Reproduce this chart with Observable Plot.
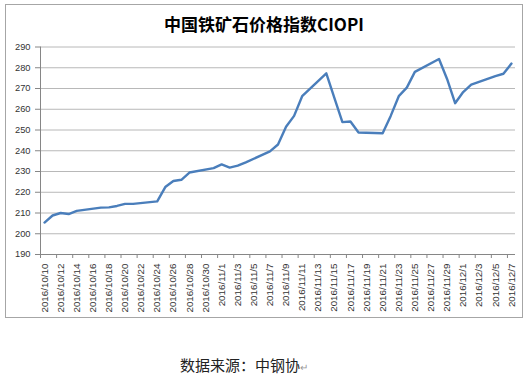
<!DOCTYPE html>
<html>
<head>
<meta charset="utf-8">
<script src="https://cdn.jsdelivr.net/npm/d3@7"></script>
<script src="https://cdn.jsdelivr.net/npm/@observablehq/plot@0.6"></script>
<style>
  html, body { margin: 0; padding: 0; background: #fff; }
  #wrap { position: relative; width: 528px; height: 377px; overflow: hidden; }
  #box { position: absolute; left: 5px; top: 4px; width: 518px; height: 314px; border: 1px solid #a6a6a6; box-sizing: border-box; }
  #title { position: absolute; left: 0; top: 13px; width: 528px; text-align: center;
           font-family: "Noto Sans CJK SC", sans-serif; font-weight: bold; font-size: 17px; color: #000; line-height: 22px; }
  #chart { position: absolute; left: 0; top: 0; }
  #caption { position: absolute; left: 180px; top: 355px; font-family: "Noto Sans CJK SC", sans-serif;
             font-size: 15px; color: #222; line-height: 20px; white-space: nowrap; }
  #caption .pm { color: #999; font-size: 10px; }
</style>
</head>
<body>
<div id="wrap">
  <div id="box"></div>
  <div id="chart"></div>
  <div id="title">中国铁矿石价格指数CIOPI</div>
  <div id="caption">数据来源：中钢协<span class="pm">↵</span></div>
</div>
<script>
const dates = [
  "2016-10-10","2016-10-11","2016-10-12","2016-10-13","2016-10-14",
  "2016-10-17","2016-10-18","2016-10-19","2016-10-20","2016-10-21",
  "2016-10-24","2016-10-25","2016-10-26","2016-10-27","2016-10-28",
  "2016-10-31","2016-11-01","2016-11-02","2016-11-03","2016-11-04",
  "2016-11-07","2016-11-08","2016-11-09","2016-11-10","2016-11-11",
  "2016-11-14","2016-11-15","2016-11-16","2016-11-17","2016-11-18",
  "2016-11-21","2016-11-22","2016-11-23","2016-11-24","2016-11-25",
  "2016-11-28","2016-11-29","2016-11-30","2016-12-01","2016-12-02",
  "2016-12-05","2016-12-06","2016-12-07"
];
const values = [
  205.4, 208.8, 210.0, 209.5, 211.0,
  212.6, 212.7, 213.4, 214.4, 214.4,
  215.6, 222.5, 225.4, 226.0, 229.5,
  231.6, 233.4, 231.9, 232.8, 234.4,
  239.7, 243.0, 251.6, 256.8, 266.3,
  277.3, 265.5, 253.8, 254.1, 248.8,
  248.4, 256.8, 266.3, 270.4, 278.0,
  284.2, 274.6, 262.9, 268.3, 271.9,
  276.0, 277.1, 282.0
];
const tickLabels = [
  "2016/10/10","2016/10/12","2016/10/14","2016/10/16","2016/10/18","2016/10/20",
  "2016/10/22","2016/10/24","2016/10/26","2016/10/28","2016/10/30","2016/11/1",
  "2016/11/3","2016/11/5","2016/11/7","2016/11/9","2016/11/11","2016/11/13",
  "2016/11/15","2016/11/17","2016/11/19","2016/11/21","2016/11/23","2016/11/25",
  "2016/11/27","2016/11/29","2016/12/1","2016/12/3","2016/12/5","2016/12/7"
];
const yTicks = [190, 200, 210, 220, 230, 240, 250, 260, 270, 280, 290];

const parse = s => { const [y, m, d] = s.split(/[-\/]/).map(Number); return new Date(Date.UTC(y, m - 1, d)); };
const data = dates.map((d, i) => ({date: parse(d), value: values[i]}));
const tickDates = tickLabels.map(parse);
const labelMap = new Map(tickLabels.map(s => [+parse(s), s]));
const half = 12 * 3600 * 1000;
const xDomain = [new Date(+parse(dates[0]) - half), new Date(+parse(dates[dates.length - 1]) + half)];
const tickEdges = tickDates.map(d => new Date(+d - half));

const chart = Plot.plot({
  width: 528,
  height: 320,
  marginLeft: 40,
  marginRight: 13,
  marginTop: 46.5,
  marginBottom: 66,
  x: {type: "utc", domain: xDomain},
  y: {domain: [190, 290]},
  style: {fontFamily: "'Liberation Sans', Arial, sans-serif", fontSize: "9.3px", color: "#333", background: "transparent"},
  marks: [
    Plot.ruleY(yTicks.filter(v => v > 190), {y: d => d, stroke: "#b8b8b8", strokeWidth: 1, strokeOpacity: 1}),
    Plot.ruleY([190], {stroke: "#868686", strokeWidth: 1, strokeOpacity: 1}),
    Plot.ruleX([xDomain[0]], {stroke: "#868686", strokeWidth: 1, strokeOpacity: 1}),
    Plot.axisY({ticks: yTicks, tickSize: 5, tickPadding: 5, stroke: "#868686", strokeOpacity: 1, fill: "#333", label: null}),
    Plot.axisX({ticks: tickEdges, tickSize: 4, tickFormat: () => "", stroke: "#868686", strokeOpacity: 1, label: null}),
    Plot.axisX({ticks: tickDates, tickSize: 0, tickPadding: 9, tickRotate: -90, tickFormat: d => labelMap.get(+d), fill: "#333", fontSize: 9.8, label: null}),
    Plot.line(data, {x: "date", y: "value", stroke: "#4a7ebb", strokeWidth: 2.4, curve: "linear"})
  ]
});
document.getElementById("chart").appendChild(chart);
</script>
</body>
</html>
